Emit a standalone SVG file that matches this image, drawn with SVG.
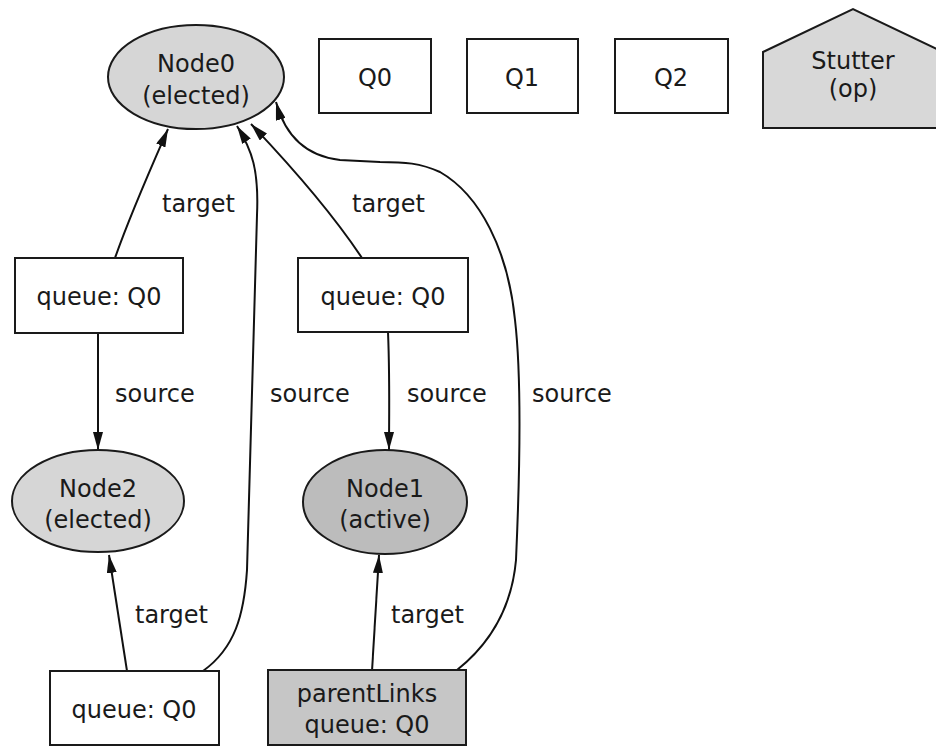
<svg xmlns="http://www.w3.org/2000/svg" width="936" height="746" viewBox="0 0 936 746">
<style>
  text { font-family: "DejaVu Sans", "Liberation Sans", sans-serif; font-size: 24px; fill: #1a1a1a; text-anchor: middle; }
  .box { fill: #ffffff; stroke: #1a1a1a; stroke-width: 2; }
  .ell { fill: #d6d6d6; stroke: #1a1a1a; stroke-width: 2; }
  .dark { fill: #bcbcbc; }
  .gbox { fill: #c6c6c6; stroke: #1a1a1a; stroke-width: 2; }
  .edge { fill: none; stroke: #111; stroke-width: 2; marker-end: url(#arr); }
  .lbl { text-anchor: start; }
</style>
<defs>
  <marker id="arr" markerUnits="userSpaceOnUse" markerWidth="18" markerHeight="10" viewBox="0 0 18 10" refX="18" refY="5" orient="auto">
    <path d="M0,0 L18,5 L0,10 Z" fill="#111"/>
  </marker>
</defs>
<rect width="936" height="746" fill="#ffffff"/>

<g id="edges">
  <path class="edge" d="M115,258 C130,215 150,170 168,129"/>
  <path class="edge" d="M203,671 C235,648 244,615 247,570 L257,215 C259,170 252,150 237,126"/>
  <path class="edge" d="M362,258 C330,210 290,165 251,124"/>
  <path class="edge" d="M457,670 C492,642 512,605 516,560 C520,470 522,380 515,320 C508,250 480,195 440,172 C420,163 405,162 380,162 L340,160 C305,156 285,135 276,102"/>
  <path class="edge" d="M98,333 L98,450"/>
  <path class="edge" d="M388,332 C390,380 389,420 389,450"/>
  <path class="edge" d="M127,671 L109,555"/>
  <path class="edge" d="M372,671 L379,555"/>
  <text class="lbl" x="162" y="212">target</text>
  <text class="lbl" x="352" y="212">target</text>
  <text class="lbl" x="115" y="402">source</text>
  <text class="lbl" x="270" y="402">source</text>
  <text class="lbl" x="407" y="402">source</text>
  <text class="lbl" x="532" y="402">source</text>
  <text class="lbl" x="135" y="623">target</text>
  <text class="lbl" x="391" y="623">target</text>
</g>

<g id="node0">
  <ellipse class="ell" cx="196" cy="77" rx="88" ry="52"/>
  <text x="196" y="72">Node0</text>
  <text x="196" y="104">(elected)</text>
</g>
<g id="q0">
  <rect class="box" x="319" y="39" width="112" height="74"/>
  <text x="375" y="86">Q0</text>
</g>
<g id="q1">
  <rect class="box" x="467" y="39" width="111" height="74"/>
  <text x="522" y="86">Q1</text>
</g>
<g id="q2">
  <rect class="box" x="615" y="39" width="113" height="74"/>
  <text x="671" y="86">Q2</text>
</g>
<g id="stutter">
  <polygon points="763,52 853,9 943,52 943,128 763,128" fill="#d8d8d8" stroke="#1a1a1a" stroke-width="2"/>
  <text x="853" y="69">Stutter</text>
  <text x="853" y="97">(op)</text>
</g>
<g id="queueA">
  <rect class="box" x="15" y="258" width="168" height="75"/>
  <text x="99" y="305">queue: Q0</text>
</g>
<g id="queueB">
  <rect class="box" x="298" y="258" width="170" height="74"/>
  <text x="383" y="305">queue: Q0</text>
</g>
<g id="node2">
  <ellipse class="ell" cx="98" cy="501" rx="86" ry="51"/>
  <text x="98" y="497">Node2</text>
  <text x="98" y="528">(elected)</text>
</g>
<g id="node1">
  <ellipse class="ell dark" cx="385" cy="502" rx="82" ry="52"/>
  <text x="385" y="497">Node1</text>
  <text x="385" y="528">(active)</text>
</g>
<g id="queueC">
  <rect class="box" x="50" y="671" width="169" height="74"/>
  <text x="134" y="718">queue: Q0</text>
</g>
<g id="parentLinks">
  <rect class="gbox" x="268" y="670" width="198" height="75"/>
  <text x="367" y="702">parentLinks</text>
  <text x="367" y="733">queue: Q0</text>
</g>
</svg>
